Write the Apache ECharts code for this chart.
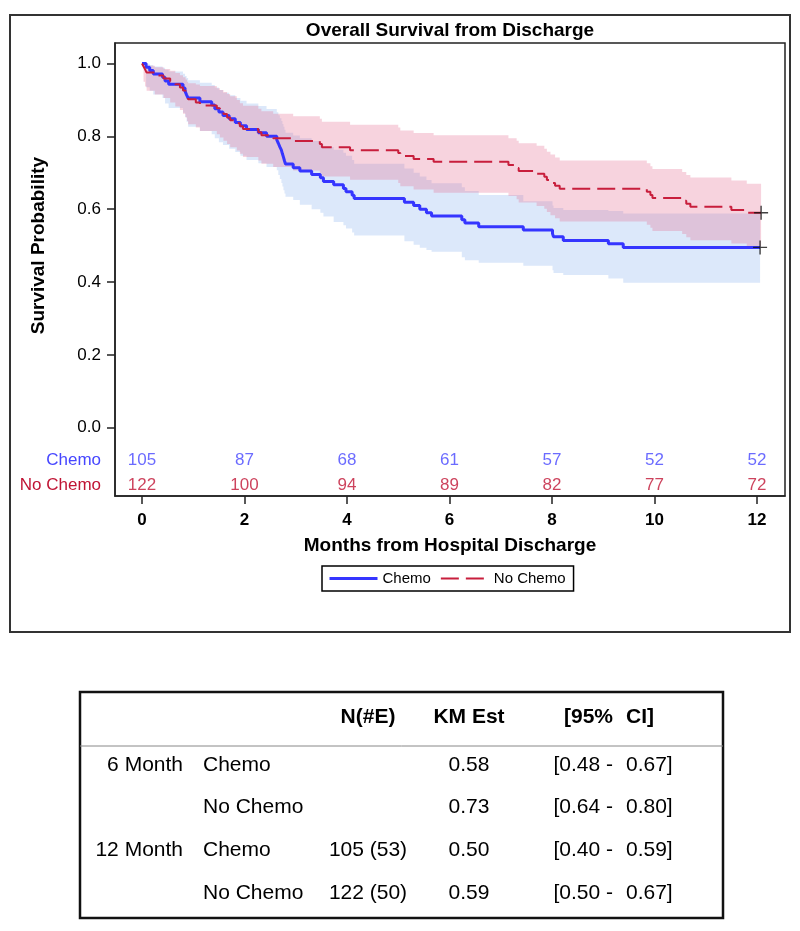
<!DOCTYPE html>
<html><head><meta charset="utf-8">
<script src="https://cdn.jsdelivr.net/npm/echarts/dist/echarts.min.js"></script>
<style>html,body{margin:0;padding:0;background:#fff}#c{width:800px;height:931px}</style>
</head><body><div id="c"></div>
<script>
// ---------------- DATA ----------------
const chartTitle = 'Overall Survival from Discharge';
const xTitle = 'Months from Hospital Discharge';
const yTitle = 'Survival Probability';
const groupNames = ['Chemo', 'No Chemo'];

const chemoTime = [0,0.08,0.15,0.22,0.40,0.45,0.52,0.80,0.84,0.87,0.90,1.13,1.36,1.42,1.50,1.58,1.70,1.82,1.92,2.04,2.27,2.43,2.63,2.66,2.69,2.72,2.74,2.76,2.78,2.80,2.95,3.08,3.31,3.48,3.54,3.74,3.93,3.98,4.10,4.14,5.12,5.30,5.42,5.55,5.65,6.24,6.30,6.57,7.44,8.01,8.03,8.22,9.10,9.39,12.06];
const chemoSurv = [1.000,0.990,0.981,0.971,0.962,0.952,0.943,0.933,0.924,0.914,0.905,0.895,0.886,0.876,0.867,0.857,0.848,0.838,0.829,0.819,0.810,0.800,0.790,0.781,0.771,0.762,0.752,0.743,0.733,0.724,0.714,0.705,0.695,0.686,0.676,0.667,0.657,0.648,0.638,0.629,0.619,0.610,0.600,0.590,0.581,0.571,0.562,0.552,0.543,0.533,0.524,0.514,0.505,0.495,0.495];
const chemoLower = [1.000,0.935,0.925,0.915,0.905,0.890,0.878,0.865,0.853,0.840,0.826,0.815,0.806,0.795,0.784,0.776,0.766,0.757,0.747,0.735,0.726,0.716,0.707,0.694,0.683,0.672,0.662,0.652,0.643,0.634,0.625,0.612,0.600,0.590,0.580,0.565,0.556,0.547,0.536,0.528,0.512,0.502,0.494,0.488,0.483,0.468,0.460,0.453,0.445,0.432,0.425,0.419,0.410,0.398,0.398];
const chemoUpper = [1.000,0.999,0.996,0.992,0.988,0.983,0.978,0.972,0.966,0.960,0.954,0.947,0.941,0.934,0.927,0.920,0.913,0.905,0.898,0.890,0.883,0.875,0.866,0.858,0.850,0.842,0.834,0.826,0.818,0.810,0.802,0.795,0.787,0.779,0.771,0.763,0.755,0.747,0.735,0.725,0.712,0.700,0.690,0.680,0.671,0.660,0.650,0.639,0.622,0.610,0.603,0.598,0.595,0.588,0.588];

const noChemoTime = [0,0.03,0.06,0.09,0.25,0.42,0.55,0.65,0.74,0.80,0.85,0.88,0.90,1.05,1.13,1.46,1.52,1.59,1.66,1.72,1.85,1.91,1.97,2.27,2.33,2.56,2.95,3.47,3.51,4.06,5.00,5.04,5.30,5.69,7.15,7.31,7.35,7.70,7.85,7.90,7.97,8.06,8.15,9.85,9.92,9.96,10.54,10.62,10.70,11.50,11.80,12.08];
const noChemoSurv = [1.000,0.992,0.984,0.975,0.967,0.959,0.951,0.943,0.934,0.926,0.918,0.910,0.902,0.893,0.885,0.877,0.869,0.861,0.852,0.844,0.836,0.828,0.820,0.811,0.803,0.795,0.787,0.779,0.770,0.762,0.754,0.746,0.738,0.730,0.721,0.713,0.705,0.697,0.689,0.680,0.672,0.664,0.656,0.648,0.639,0.631,0.623,0.615,0.607,0.598,0.590,0.590];
const noChemoLower = [1.000,0.950,0.937,0.925,0.915,0.905,0.893,0.882,0.872,0.862,0.852,0.842,0.833,0.824,0.815,0.806,0.797,0.788,0.779,0.770,0.761,0.752,0.743,0.734,0.725,0.716,0.706,0.697,0.690,0.681,0.672,0.663,0.654,0.645,0.636,0.627,0.618,0.609,0.601,0.592,0.583,0.575,0.566,0.557,0.549,0.540,0.532,0.523,0.515,0.506,0.498,0.498];
const noChemoUpper = [1.000,0.999,0.997,0.994,0.990,0.985,0.980,0.974,0.968,0.962,0.956,0.950,0.946,0.942,0.938,0.932,0.927,0.922,0.916,0.910,0.900,0.891,0.884,0.876,0.869,0.862,0.855,0.848,0.840,0.832,0.824,0.816,0.809,0.803,0.795,0.788,0.781,0.774,0.766,0.758,0.750,0.742,0.734,0.726,0.718,0.710,0.702,0.694,0.687,0.679,0.670,0.670];

const riskTimes = [0,2,4,6,8,10,12];
const chemoAtRisk = [105,87,68,61,57,52,52];
const noChemoAtRisk = [122,100,94,89,82,77,72];

const xTickValues = [0,2,4,6,8,10,12];
const yTickValues = [0,0.2,0.4,0.6,0.8,1.0];

const tableHeader = ['', '', 'N(#E)', 'KM Est', '[95%', 'CI]'];
const tableCol1 = ['6 Month', '', '12 Month', ''];
const tableCol2 = ['Chemo', 'No Chemo', 'Chemo', 'No Chemo'];
const tableCol3 = ['', '', '105 (53)', '122 (50)'];
const tableCol4 = ['0.58', '0.73', '0.50', '0.59'];
const tableCol5 = ['[0.48 -', '[0.64 -', '[0.40 -', '[0.50 -'];
const tableCol6 = ['0.67]', '0.80]', '0.59]', '0.67]'];

// ---------------- LAYOUT ----------------
const FONT = '"Liberation Sans", Arial, Helvetica, sans-serif';
const PLOT_LEFT = 115, PLOT_RIGHT = 785, PLOT_TOP = 43, PLOT_BOTTOM = 496;
const X0_PX = 142, X12_PX = 757, Y1_PX = 63.5, Y0_PX = 427.7;
const pxPerMonth = (X12_PX - X0_PX) / 12;
const pxPerUnit = (Y0_PX - Y1_PX);
const xMin = -(X0_PX - PLOT_LEFT) / pxPerMonth;
const xMax = 12 + (PLOT_RIGHT - X12_PX) / pxPerMonth;
const yMax = 1 + (Y1_PX - PLOT_TOP) / pxPerUnit;
const yMin = -(PLOT_BOTTOM - Y0_PX) / pxPerUnit;
const yAtPx = py => (Y0_PX - py) / pxPerUnit;
const ROW_CHEMO_PX = 460, ROW_NOCHEMO_PX = 485;

const BLUE = '#3535ff', RED = '#c81e3c';
const BLUE_TXT = '#4646ff', RED_TXT = '#c01434';

const zip = (a, b) => a.map((v, i) => [v, b[i]]);

// confidence band drawn as one step-shaped polygon through the axis scales
function bandSeries(name, time, lower, upper, color) {
  return {
    name: name, type: 'custom', coordinateSystem: 'cartesian2d', silent: true, z: 1, clip: true,
    data: [[time[0], upper[0]]],
    renderItem: function (params, api) {
      const n = time.length, pts = [];
      for (let i = 0; i < n; i++) {
        pts.push(api.coord([time[i], upper[i]]));
        if (i < n - 1) pts.push(api.coord([time[i + 1], upper[i]]));
      }
      for (let i = n - 1; i >= 0; i--) {
        if (i < n - 1) pts.push(api.coord([time[i + 1], lower[i]]));
        pts.push(api.coord([time[i], lower[i]]));
      }
      return { type: 'polygon', shape: { points: pts }, style: { fill: color, stroke: null } };
    }
  };
}

const plusPath = 'path://M0,6.3 H14 V7.7 H0 Z M6.3,0 H7.7 V14 H6.3 Z';

// ---------------- GRAPHIC (frame, y title, row labels, table) ----------------
const graphic = [];
graphic.push({ type: 'rect', shape: { x: 10, y: 15, width: 780, height: 617 },
  style: { fill: 'none', stroke: '#333', lineWidth: 2 }, silent: true });
graphic.push({ type: 'text', x: 39, y: (Y1_PX + Y0_PX) / 2, rotation: Math.PI / 2,
  style: { text: yTitle, fill: '#000', font: 'bold 19px ' + FONT, textAlign: 'center', textVerticalAlign: 'middle' } });
graphic.push({ type: 'text', x: 101, y: ROW_CHEMO_PX, style: { text: groupNames[0], fill: BLUE_TXT, font: '17px ' + FONT, textAlign: 'right', textVerticalAlign: 'middle' } });
graphic.push({ type: 'text', x: 101, y: ROW_NOCHEMO_PX, style: { text: groupNames[1], fill: RED_TXT, font: '17px ' + FONT, textAlign: 'right', textVerticalAlign: 'middle' } });

const T = { left: 80, top: 692, right: 723, bottom: 918, headY: 717, sepY: 746, rowY: [765, 807, 850, 893] };
graphic.push({ type: 'rect', shape: { x: T.left, y: T.top, width: T.right - T.left, height: T.bottom - T.top },
  style: { fill: 'none', stroke: '#111', lineWidth: 2.5 }, silent: true });
graphic.push({ type: 'line', shape: { x1: T.left, y1: T.sepY, x2: T.right, y2: T.sepY },
  style: { stroke: '#888', lineWidth: 1 }, silent: true });
const colX = [183, 203, 368, 469, 613, 626];
const colAlign = ['right', 'left', 'center', 'center', 'right', 'left'];
tableHeader.forEach((t, i) => {
  if (!t) return;
  graphic.push({ type: 'text', x: colX[i], y: T.headY, style: { text: t, fill: '#000', font: 'bold 21px ' + FONT, textAlign: colAlign[i], textVerticalAlign: 'middle' } });
});
const cols = [tableCol1, tableCol2, tableCol3, tableCol4, tableCol5, tableCol6];
cols.forEach((col, ci) => {
  col.forEach((t, ri) => {
    if (!t) return;
    graphic.push({ type: 'text', x: colX[ci], y: T.rowY[ri], style: { text: t, fill: '#000', font: '21px ' + FONT, textAlign: colAlign[ci], textVerticalAlign: 'middle' } });
  });
});

// ---------------- CHART ----------------
const chart = echarts.init(document.getElementById('c'), null, { renderer: 'canvas' });
const option = {
  animation: false,
  backgroundColor: '#fff',
  textStyle: { fontFamily: FONT },
  title: { text: chartTitle, left: 445, textAlign: 'center', top: 16,
    textStyle: { fontSize: 19, fontWeight: 'bold', color: '#000', fontFamily: FONT } },
  legend: {
    data: [
      { name: groupNames[0], lineStyle: { width: 3 } },
      { name: groupNames[1], lineStyle: { width: 2 } }
    ],
    left: 322, top: 566, orient: 'horizontal',
    itemWidth: 48, itemHeight: 12, itemGap: 9,
    padding: [5, 8, 5, 6], borderColor: '#000', borderWidth: 1.5,
    itemStyle: { color: 'rgba(0,0,0,0)', borderColor: 'rgba(0,0,0,0)', borderWidth: 0 },
    textStyle: { fontSize: 15, color: '#000', fontFamily: FONT }
  },
  grid: { left: PLOT_LEFT, top: PLOT_TOP, right: 800 - PLOT_RIGHT, bottom: 931 - PLOT_BOTTOM,
    show: true, borderColor: '#222', borderWidth: 1.5, backgroundColor: 'transparent', containLabel: false, outerBoundsMode: 'none' },
  xAxis: {
    type: 'value', min: xMin, max: xMax,
    name: xTitle, nameLocation: 'middle', nameGap: 40, nameMoveOverlap: false,
    nameTextStyle: { fontSize: 19, fontWeight: 'bold', color: '#000', fontFamily: FONT },
    axisLine: { show: true, onZero: false, lineStyle: { color: '#222', width: 1.5 } },
    axisTick: { show: true, customValues: xTickValues, length: 8, lineStyle: { color: '#222', width: 1.5 } },
    axisLabel: { show: true, customValues: xTickValues, fontSize: 17, fontWeight: 'bold', color: '#000', margin: 16, fontFamily: FONT },
    splitLine: { show: false }
  },
  yAxis: {
    type: 'value', min: yMin, max: yMax,
    axisLine: { show: true, onZero: false, lineStyle: { color: '#222', width: 1.5 } },
    axisTick: { show: true, customValues: yTickValues, length: 8, lineStyle: { color: '#222', width: 1.5 } },
    axisLabel: { show: true, customValues: yTickValues, fontSize: 17, color: '#000', margin: 14, fontFamily: FONT,
      formatter: v => v.toFixed(1) },
    splitLine: { show: false }
  },
  graphic: graphic,
  series: [
    bandSeries('chemoBand', chemoTime, chemoLower, chemoUpper, 'rgba(140,180,240,0.30)'),
    bandSeries('noChemoBand', noChemoTime, noChemoLower, noChemoUpper, 'rgba(230,110,145,0.30)'),
    { name: groupNames[0], type: 'line', step: 'end', data: zip(chemoTime, chemoSurv), symbol: 'none',
      color: BLUE, lineStyle: { color: BLUE, width: 3 }, z: 3 },
    { name: groupNames[1], type: 'line', step: 'end', data: zip(noChemoTime, noChemoSurv), symbol: 'none',
      color: RED, lineStyle: { color: RED, width: 2, type: [18, 7] }, z: 4 },
    { name: 'censor', type: 'scatter', symbol: plusPath, symbolSize: 14, z: 5,
      itemStyle: { color: '#111' },
      data: [[chemoTime[chemoTime.length - 1], chemoSurv[chemoSurv.length - 1]],
             [noChemoTime[noChemoTime.length - 1], noChemoSurv[noChemoSurv.length - 1]]] },
    { name: 'riskChemo', type: 'scatter', symbolSize: 1, itemStyle: { color: 'rgba(0,0,0,0)' }, z: 6,
      data: riskTimes.map((t, i) => [t, yAtPx(ROW_CHEMO_PX), chemoAtRisk[i]]),
      label: { show: true, position: 'inside', formatter: p => String(p.data[2]), fontSize: 17, color: BLUE_TXT, fontFamily: FONT } },
    { name: 'riskNoChemo', type: 'scatter', symbolSize: 1, itemStyle: { color: 'rgba(0,0,0,0)' }, z: 6,
      data: riskTimes.map((t, i) => [t, yAtPx(ROW_NOCHEMO_PX), noChemoAtRisk[i]]),
      label: { show: true, position: 'inside', formatter: p => String(p.data[2]), fontSize: 17, color: RED_TXT, fontFamily: FONT } }
  ]
};
chart.setOption(option);
</script>
</body></html>
